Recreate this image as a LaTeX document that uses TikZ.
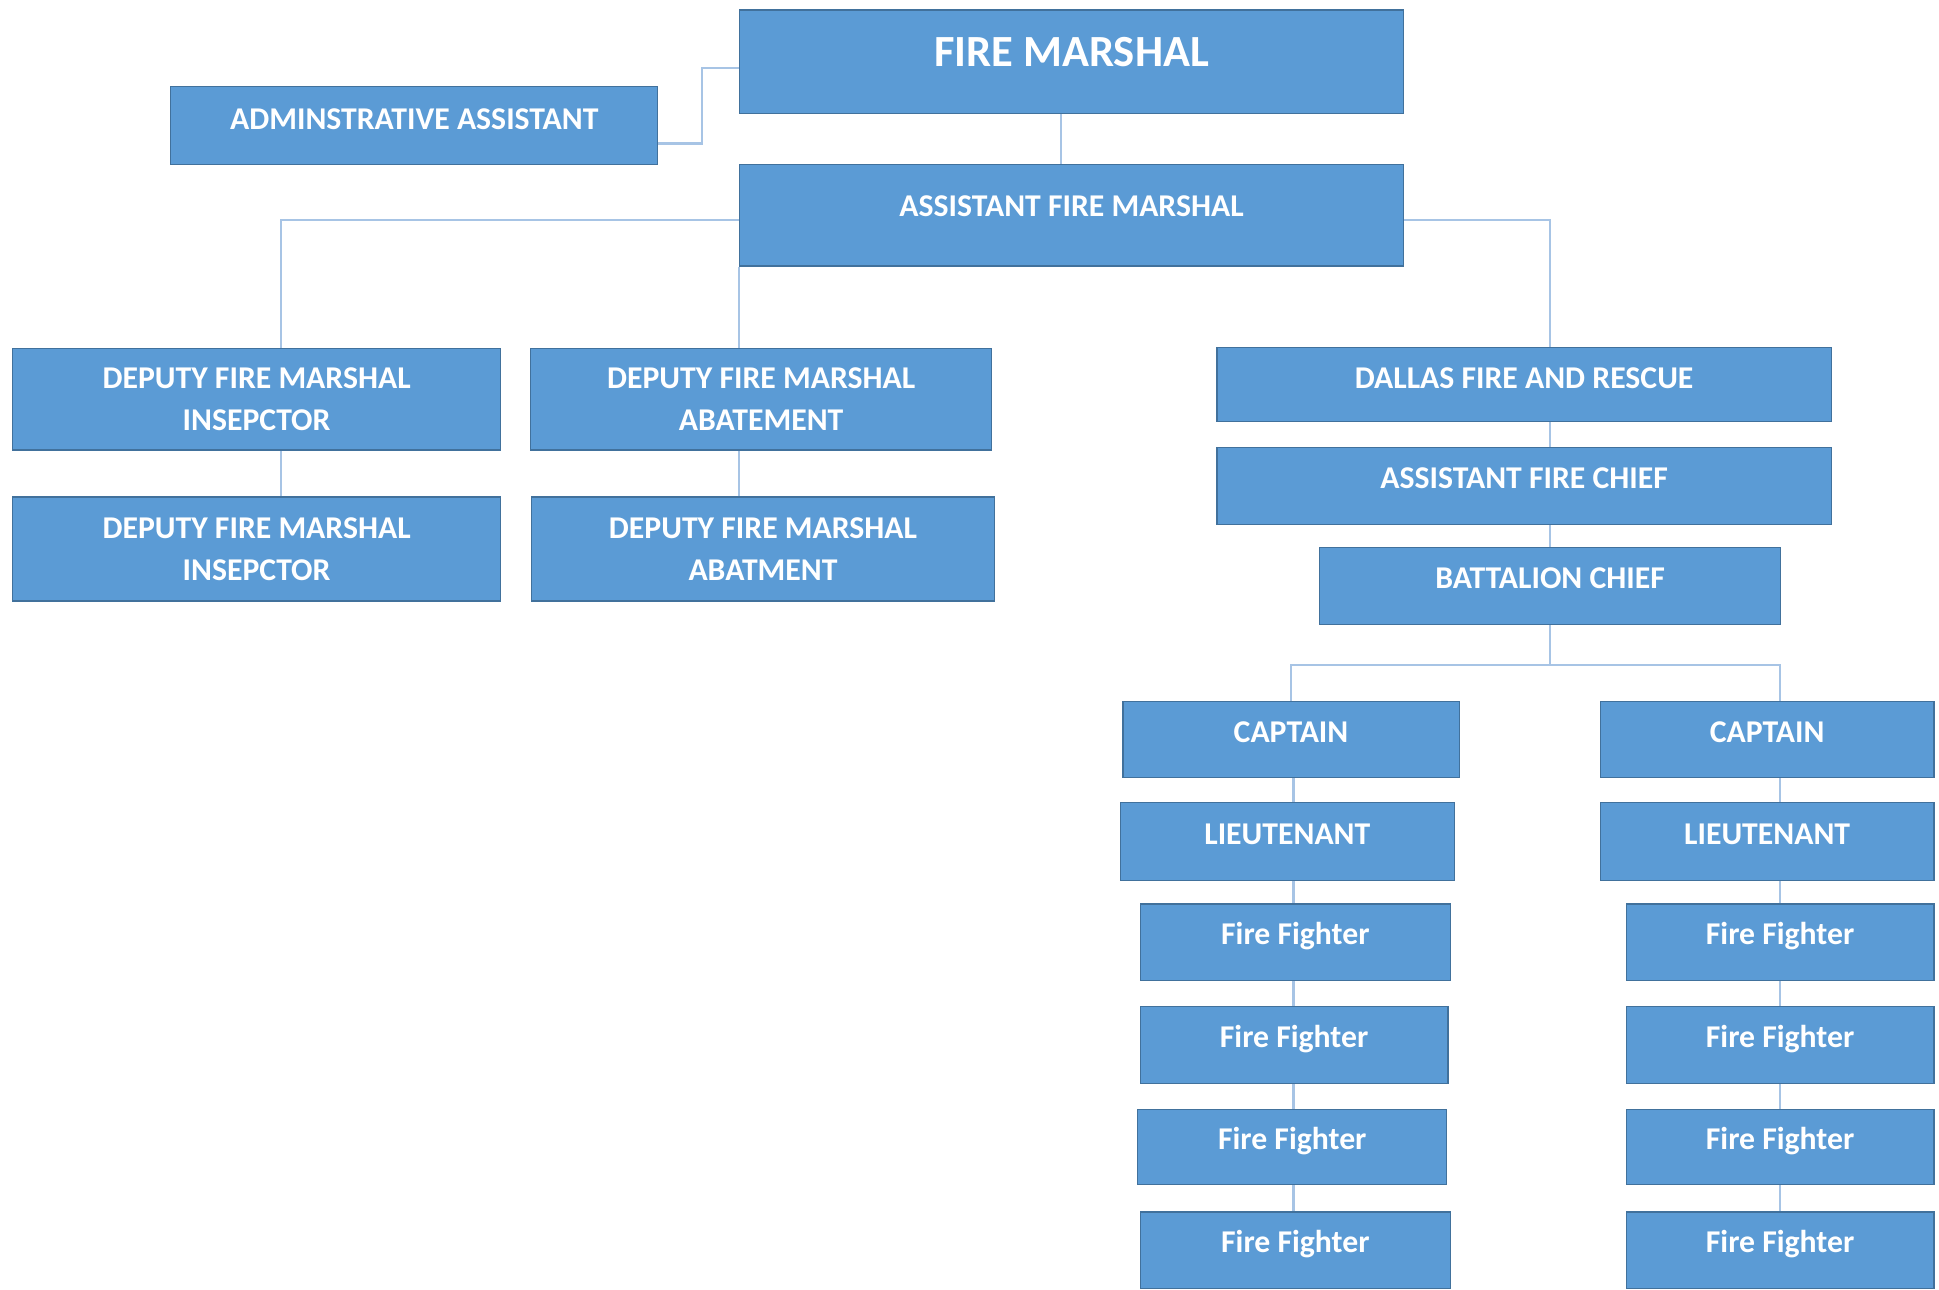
\documentclass[tikz,border=0pt]{standalone}
\usepackage{fontspec}
\setmainfont{Carlito}
\usetikzlibrary{backgrounds}
\definecolor{boxblue}{HTML}{5B9BD5}
\definecolor{boxline}{HTML}{41719C}
\definecolor{linkblue}{HTML}{A7C4E5}

\begin{document}
\begin{tikzpicture}[x=0.02cm, y=-0.02cm,
  every node/.style={rectangle, draw=boxline, fill=boxblue, line width=0.6pt, text=white,
    font=\fontsize{14.6}{19.2}\selectfont\bfseries, inner sep=0pt},
  wh/.style 2 args={minimum width=#1cm, minimum height=#2cm},
  box/.style={text height=9.4pt, text depth=7pt},
  twoline/.style={align=center},
  link/.style={draw=linkblue, line width=1.1pt}]

\useasboundingbox (0,0) rectangle (1568,1043);

% top
\node[box, wh={10.74}{1.68}, font=\fontsize{20.5}{24}\selectfont\bfseries, text height=13pt, text depth=9pt] (fm) at (866.5,50) {FIRE MARSHAL};
\node[box, wh={7.88}{1.26}, text depth=6pt] (admin) at (335,101.5) {ADMINSTRATIVE ASSISTANT};
\node[box, wh={10.74}{1.64}, text depth=8pt] (afm) at (866.5,174) {ASSISTANT FIRE MARSHAL};

% deputies
\node[twoline, wh={7.9}{1.64}] (dfmi1) at (207.5,323) {DEPUTY FIRE MARSHAL\\INSEPCTOR};
\node[twoline, wh={7.46}{1.64}] (dfma1) at (615.5,323) {DEPUTY FIRE MARSHAL\\ABATEMENT};
\node[twoline, wh={7.9}{1.68}] (dfmi2) at (207.5,444) {DEPUTY FIRE MARSHAL\\INSEPCTOR};
\node[twoline, wh={7.48}{1.68}] (dfma2) at (617,444) {DEPUTY FIRE MARSHAL\\ABATMENT};

% fire department
\node[box, wh={9.94}{1.2}, text depth=6pt] (dfr) at (1232.5,311) {DALLAS FIRE AND RESCUE};
\node[box, wh={9.94}{1.24}] (afc) at (1232.5,393) {ASSISTANT FIRE CHIEF};
\node[box, wh={7.46}{1.24}] (bc) at (1253.5,474) {BATTALION CHIEF};

\node[box, wh={5.44}{1.24}] (cap1) at (1044,598) {CAPTAIN};
\node[box, wh={5.4}{1.24}] (cap2) at (1429,598) {CAPTAIN};
\node[box, wh={5.4}{1.26}] (lt1) at (1041,680.5) {LIEUTENANT};
\node[box, wh={5.4}{1.26}] (lt2) at (1429,680.5) {LIEUTENANT};

\node[box, wh={5.02}{1.24}] (ff1a) at (1047.5,762) {Fire Fighter};
\node[box, wh={4.98}{1.24}] (ff1b) at (1046.5,845) {Fire Fighter};
\node[box, wh={5.0}{1.22}] (ff1c) at (1045,927.5) {Fire Fighter};
\node[box, wh={5.02}{1.24}] (ff1d) at (1047.5,1011) {Fire Fighter};
\node[box, wh={4.98}{1.24}] (ff2a) at (1439.5,762) {Fire Fighter};
\node[box, wh={4.98}{1.24}] (ff2b) at (1439.5,845) {Fire Fighter};
\node[box, wh={4.98}{1.22}] (ff2c) at (1439.5,927.5) {Fire Fighter};
\node[box, wh={4.98}{1.24}] (ff2d) at (1439.5,1011) {Fire Fighter};

% connectors
\begin{scope}[on background layer]
\draw[link] ([yshift=-0.29cm]admin.east) -- ++(0.7cm,0) |- ([yshift=-0.1cm]fm.west);
\draw[link] ([xshift=-0.17cm]fm.south) -- ([xshift=-0.17cm]afm.north);
\draw[link] ([yshift=-0.08cm]afm.west) -| ([xshift=0.39cm]dfmi1.north);
\draw[link] ([xshift=0.39cm]dfmi1.south) -- ([xshift=0.39cm]dfmi2.north);
\draw[link] (afm.south west) -- (afm.south west |- dfma2.north);
\draw[link] ([yshift=-0.08cm]afm.east) -| (bc.north |- dfr.north);
\draw[link] (bc.north |- dfr.south) -- (bc.north);
\draw[link] (bc.south) -- ++(0,-0.64cm) -| (cap1.north);
\draw[link] (bc.south) -- ++(0,-0.64cm) -| (ff2a.north |- cap2.north);
\draw[link] ([xshift=0.04cm]cap1.south) -- ([xshift=0.04cm]cap1.south |- ff1d.north);
\draw[link] (ff2a.north |- cap2.south) -- (ff2d.north);
\end{scope}
\end{tikzpicture}
\end{document}
